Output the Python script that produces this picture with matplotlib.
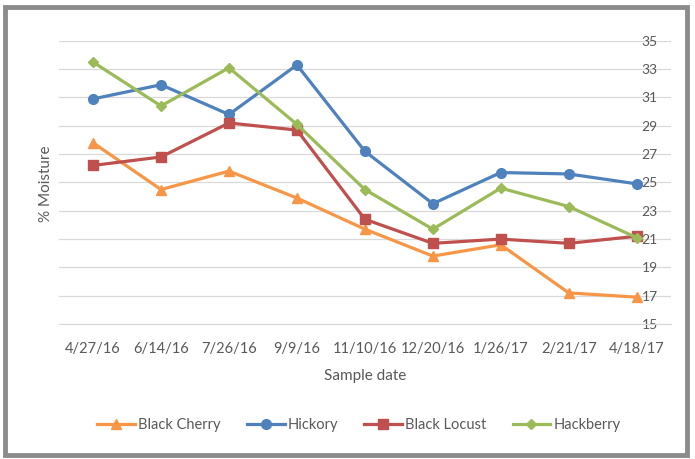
import matplotlib.pyplot as plt
from matplotlib.patches import Rectangle

plt.rcParams['font.family'] = ['Lato', 'DejaVu Sans']

# sample dates and % moisture for each species
dates = ["4/27/16", "6/14/16", "7/26/16", "9/9/16", "11/10/16",
         "12/20/16", "1/26/17", "2/21/17", "4/18/17"]
black_cherry = [27.8, 24.5, 25.8, 23.9, 21.7, 19.8, 20.6, 17.2, 16.9]
hickory = [30.9, 31.9, 29.8, 33.3, 27.2, 23.5, 25.7, 25.6, 24.9]
black_locust = [26.2, 26.8, 29.2, 28.7, 22.4, 20.7, 21.0, 20.7, 21.2]
hackberry = [33.5, 30.4, 33.1, 29.1, 24.5, 21.7, 24.6, 23.3, 21.1]
yticks = [15, 17, 19, 21, 23, 25, 27, 29, 31, 33, 35]

fig = plt.figure(figsize=(6.95, 4.59), dpi=100)
ax = fig.add_axes([0.085, 0.294, 0.88, 0.617])

x = range(len(dates))
ax.plot(x, black_cherry, color="#F79646", lw=2.3, marker="^", ms=7, label="Black Cherry", zorder=3)
ax.plot(x, hickory, color="#4F81BD", lw=2.3, marker="o", ms=7, label="Hickory", zorder=3)
ax.plot(x, black_locust, color="#C0504D", lw=2.3, marker="s", ms=7, label="Black Locust", zorder=3)
ax.plot(x, hackberry, color="#9BBB59", lw=2.3, marker="D", ms=5.5, label="Hackberry", zorder=3)

ax.set_xlim(-0.5, len(dates) - 0.5)
ax.set_ylim(15, 35)
ax.set_xticks(list(x))
ax.set_xticklabels(dates)
ax.set_yticks(yticks)
ax.yaxis.tick_right()
ax.tick_params(axis="y", length=0, pad=-21, labelsize=10, colors="#595959")
ax.tick_params(axis="x", length=0, pad=13, labelsize=10.5, colors="#595959")
ax.grid(axis="y", color="#d9d9d9", lw=0.9)
for s in ["top", "left", "right"]:
    ax.spines[s].set_visible(False)
ax.spines["bottom"].set_color("#d9d9d9")

ax.set_xlabel("Sample date", fontsize=11, color="#595959", labelpad=9)
fig.text(0.066, 0.6, "% Moisture", rotation=90, fontsize=11, color="#595959",
         ha="center", va="center")

ax.legend(loc="upper center", bbox_to_anchor=(0.49, -0.285), ncol=4, frameon=False,
          fontsize=10.5, labelcolor="#595959", handlelength=2.6, columnspacing=1.8,
          handletextpad=0.2)

fig.patches.append(Rectangle((0.007, 0.008), 0.982, 0.977, transform=fig.transFigure,
                             fill=False, edgecolor="#8c8c8c", lw=3.5))

plt.savefig("out.png", dpi=100)
